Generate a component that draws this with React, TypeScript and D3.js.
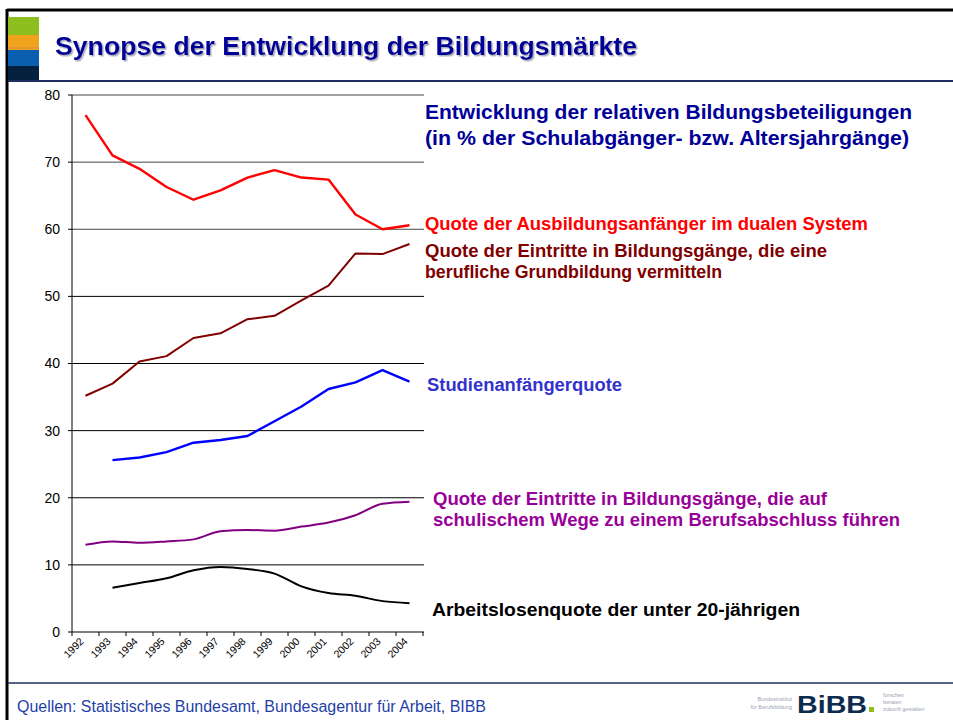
import React from 'react';
import * as d3 from 'd3';

const years = ['1992', '1993', '1994', '1995', '1996', '1997', '1998', '1999', '2000', '2001', '2002', '2003', '2004'];

// values (null = no data)
const dualSystem = [77.0, 71.0, 69.0, 66.3, 64.4, 65.8, 67.7, 68.8, 67.7, 67.4, 62.2, 60.0, 60.6];
const grundbildung = [35.2, 37.0, 40.3, 41.1, 43.8, 44.5, 46.6, 47.1, 49.4, 51.6, 56.4, 56.3, 57.8];
const studienanfaenger = [null, 25.6, 26.0, 26.8, 28.2, 28.6, 29.2, 31.4, 33.6, 36.2, 37.2, 39.0, 37.3];
const schulisch = [13.0, 13.5, 13.3, 13.5, 13.8, 15.0, 15.2, 15.1, 15.7, 16.3, 17.4, 19.1, 19.4];
const arbeitslos = [null, 6.6, 7.3, 8.0, 9.2, 9.7, 9.4, 8.7, 6.8, 5.8, 5.4, 4.6, 4.3];

const yTicks = [0, 10, 20, 30, 40, 50, 60, 70, 80];

const series = [
    { name: 'dual', values: dualSystem, color: '#ff0000', width: 2.4, curve: d3.curveLinear },
    { name: 'grund', values: grundbildung, color: '#800000', width: 2, curve: d3.curveLinear },
    { name: 'studium', values: studienanfaenger, color: '#0000ff', width: 2.4, curve: d3.curveLinear },
    { name: 'schule', values: schulisch, color: '#800080', width: 2, curve: d3.curveMonotoneX },
    { name: 'arbeit', values: arbeitslos, color: '#000000', width: 2, curve: d3.curveMonotoneX },
];

const margins = { left: 72, right: 424, top: 95, bottom: 632 };
const font = 'Arial, "Liberation Sans", sans-serif';

// text that should fill a given width, like on the slide
const Label = ({ x, y, size, color, width, children }: any) => (
    <text x={x} y={y} fontSize={size} fill={color} fontWeight="bold" textLength={width} lengthAdjust="spacingAndGlyphs">{children}</text>
);

const App = () => {
    const xScale = d3.scaleBand().domain(years).range([margins.left, 423]);
    const yScale = d3.scaleLinear().domain([0, 80]).range([margins.bottom, margins.top]);
    const cx = (y: string) => (xScale(y) as number) + xScale.bandwidth() / 2;

    const boundaries = years.map(y => xScale(y) as number).concat([423]);

    const makeLine = (curve: any) => d3.line<any>()
        .defined(d => d.v != null)
        .x(d => cx(d.year))
        .y(d => yScale(d.v))
        .curve(curve);

    return (
        <svg width={953} height={720} style={{ position: 'absolute', left: 0, top: 0, background: '#fff' }} fontFamily={font}>
            <defs>
                <filter id="shadow" x="-5%" y="-20%" width="110%" height="150%">
                    <feDropShadow dx={1.5} dy={1.5} stdDeviation={0.6} floodColor="#9999aa" floodOpacity={0.8} />
                </filter>
            </defs>
            {/* frame */}
            <line x1={7} x2={953} y1={10} y2={10} stroke="#000" strokeWidth={3} />
            <line x1={7} x2={7} y1={9} y2={720} stroke="#000" strokeWidth={3} />
            {/* logo block */}
            <rect x={8} y={17} width={31} height={18} fill="#8cbf1f" />
            <rect x={8} y={35} width={31} height={15} fill="#f0a41e" />
            <rect x={8} y={47} width={31} height={2} fill="#e09a30" />
            <rect x={8} y={50} width={31} height={16} fill="#0b5fb0" />
            <rect x={8} y={66} width={31} height={15} fill="#06213f" />
            {/* header */}
            <text x={55} y={55} fontSize={25} fontWeight="bold" fill="#000099" filter="url(#shadow)"
                textLength={582} lengthAdjust="spacingAndGlyphs">Synopse der Entwicklung der Bildungsmärkte</text>
            <line x1={8} x2={953} y1={81} y2={81} stroke="#1f2f5f" strokeWidth={2} />

            {/* grid */}
            {yTicks.filter(t => t > 0).map(t => (
                <line key={t} x1={margins.left} x2={margins.right} y1={yScale(t)} y2={yScale(t)} stroke={t >= 60 ? '#444' : '#000'} strokeWidth={1} />
            ))}
            {/* y axis */}
            <line x1={margins.left} x2={margins.left} y1={margins.top} y2={margins.bottom} stroke="#000" />
            {yTicks.map(t => (
                <g key={t}>
                    <line x1={margins.left - 4} x2={margins.left} y1={yScale(t)} y2={yScale(t)} stroke="#000" />
                    <text x={60} y={yScale(t)} dy="0.35em" textAnchor="end" fontSize={14} fill="#000">{t}</text>
                </g>
            ))}
            {/* x axis */}
            <line x1={margins.left} x2={margins.right} y1={margins.bottom} y2={margins.bottom} stroke="#000" />
            {boundaries.map((b, i) => (
                <line key={i} x1={b} x2={b} y1={margins.bottom} y2={margins.bottom + 4} stroke="#000" />
            ))}
            {years.map(y => (
                <text key={y} transform={`translate(${cx(y) - 1},${margins.bottom + 10})rotate(-45)`} textAnchor="end" fontSize={10.5} fill="#000">{y}</text>
            ))}

            {/* lines */}
            {series.map(s => (
                <path key={s.name}
                    d={makeLine(s.curve)(s.values.map((v, i) => ({ year: years[i], v }))) || ''}
                    fill="none" stroke={s.color} strokeWidth={s.width} strokeLinejoin="round" />
            ))}

            {/* annotations */}
            <Label x={425} y={119} size={20} color="#000099" width={487}>Entwicklung der relativen Bildungsbeteiligungen</Label>
            <Label x={425} y={145} size={20} color="#000099" width={484}>(in % der Schulabgänger- bzw. Altersjahrgänge)</Label>
            <Label x={425} y={230} size={17.5} color="#ff0000" width={443}>Quote der Ausbildungsanfänger im dualen System</Label>
            <Label x={425} y={257} size={17.5} color="#800000" width={402}>Quote der Eintritte in Bildungsgänge, die eine</Label>
            <Label x={425} y={278} size={17.5} color="#800000" width={297}>berufliche Grundbildung vermitteln</Label>
            <Label x={427} y={391} size={17.5} color="#3333cc" width={195}>Studienanfängerquote</Label>
            <Label x={433} y={505} size={17.5} color="#990099" width={394}>Quote der Eintritte in Bildungsgänge, die auf</Label>
            <Label x={433} y={526} size={17.5} color="#990099" width={467}>schulischem Wege zu einem Berufsabschluss führen</Label>
            <Label x={432} y={616} size={17.5} color="#000" width={368}>Arbeitslosenquote der unter 20-jährigen</Label>

            {/* footer */}
            <line x1={8} x2={953} y1={683} y2={683} stroke="#1f2f5f" strokeWidth={1.5} />
            <text x={17} y={712} fontSize={16} fill="#1f3fa8" textLength={469} lengthAdjust="spacingAndGlyphs">Quellen: Statistisches Bundesamt, Bundesagentur für Arbeit, BIBB</text>
            <g fill="#9aa3b5" fontSize={5.5}>
                <text x={792} y={701} textAnchor="end">Bundesinstitut</text>
                <text x={792} y={709} textAnchor="end">für Berufsbildung</text>
                <text x={883} y={697}>forschen</text>
                <text x={883} y={704}>beraten</text>
                <text x={883} y={711}>zukunft gestalten</text>
            </g>
            <text x={797} y={713} fontSize={24} fontWeight="bold" fill="#0d2a4f" textLength={70} lengthAdjust="spacingAndGlyphs">BiBB</text>
            <rect x={869} y={707} width={5} height={5} fill="#8cbf1f" />
        </svg>
    );
};

export default App;
